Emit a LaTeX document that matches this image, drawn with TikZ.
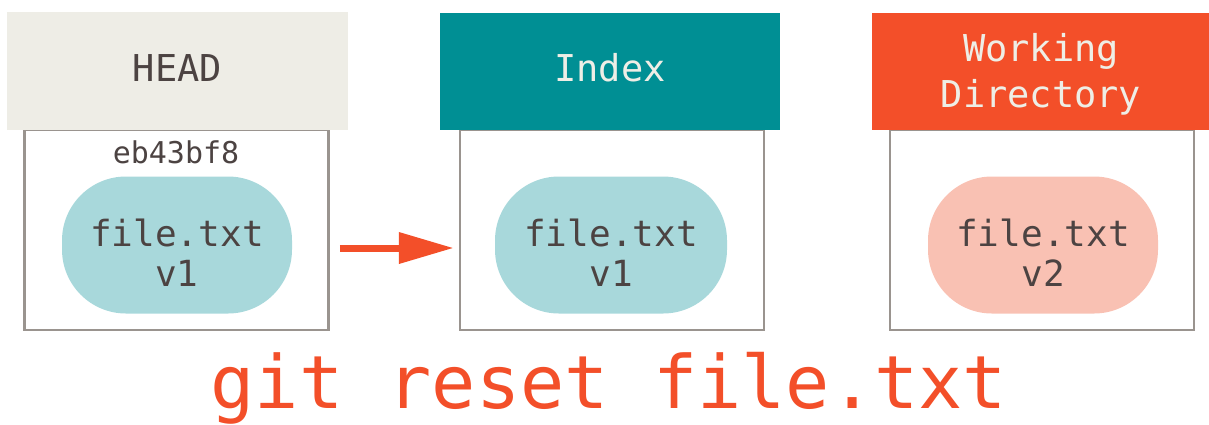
\documentclass[tikz,border=0pt]{standalone}
\usepackage{fontspec}
\setmonofont{DejaVu Sans Mono}
\usetikzlibrary{arrows.meta}
\definecolor{headbg}{HTML}{EEEDE6}
\definecolor{txtdark}{HTML}{4C4342}
\definecolor{teal}{HTML}{008F94}
\definecolor{gitorange}{HTML}{F34F29}
\definecolor{blobblue}{HTML}{A8D8DB}
\definecolor{blobpink}{HTML}{F9C1B3}
\definecolor{boxline}{HTML}{9A948F}
\definecolor{lighttxt}{HTML}{EEEEE6}
\tikzset{
  hdr/.style={rectangle, inner sep=0pt},
  hdrtxt/.style={inner sep=0pt, align=center, font=\ttfamily\fontsize{37}{46}\selectfont},
  areabox/.style={rectangle, draw=boxline, line width=2.5pt, inner sep=0pt, minimum width=304pt, minimum height=200pt},
  blob/.style={rectangle, rounded corners=64pt, inner sep=0pt, minimum width=230pt, minimum height=137pt},
  blobtxt/.style={inner sep=0pt, text=txtdark, align=center, font=\ttfamily\fontsize{36}{40}\selectfont},
  bigarrow/.style={draw=gitorange, line width=7pt, -{Triangle[length=55pt,width=30pt]}}
}
\begin{document}
\begin{tikzpicture}[x=1pt,y=-1pt]
\useasboundingbox (0,0) rectangle (1209,424);
% boxes
\node[areabox] (hbox) at (176.5,230) {};
\node[areabox] (ibox) at (612,230) {};
\node[areabox] (wbox) at (1042,230) {};
% headers
\node[hdr, fill=headbg, minimum width=341pt, minimum height=118pt] (hhead) at (177.5,71) {};
\node[hdr, fill=teal, minimum width=340pt, minimum height=117pt] (ihead) at (610,71.5) {};
\node[hdr, fill=gitorange, minimum width=337pt, minimum height=117pt] (whead) at (1040.5,71.5) {};
\node[hdrtxt, text=txtdark] (hheadtxt) at (177.5,68) {HEAD};
\node[hdrtxt, text=lighttxt] (iheadtxt) at (610,68) {Index};
\node[hdrtxt, text=lighttxt] (wheadtxt) at (1041,74) {Working\\Directory};
% commit id
\node[text=txtdark, font=\ttfamily\fontsize{30}{36}\selectfont] (hid) at (176,152) {eb43bf8};
% blobs
\node[blob, fill=blobblue] (hblob) at (177,245) {};
\node[blob, fill=blobblue, minimum width=232pt] (iblob) at (611,245) {};
\node[blob, fill=blobpink] (wblob) at (1043,245) {};
\node[blobtxt] (hblobtxt) at (177,253) {file.txt\\v1};
\node[blobtxt] (iblobtxt) at (611,253) {file.txt\\v1};
\node[blobtxt] (wblobtxt) at (1043,253) {file.txt\\v2};
% arrow
\draw[bigarrow, shorten <=10pt, shorten >=5pt] ([yshift=-18pt]hbox.east) -- ([yshift=-18pt]ibox.west);
% command
\node[anchor=base, text=gitorange, font=\ttfamily\fontsize{73.5}{80}\selectfont] (cmd) at (609,408) {git reset file.txt};
\end{tikzpicture}
\end{document}
